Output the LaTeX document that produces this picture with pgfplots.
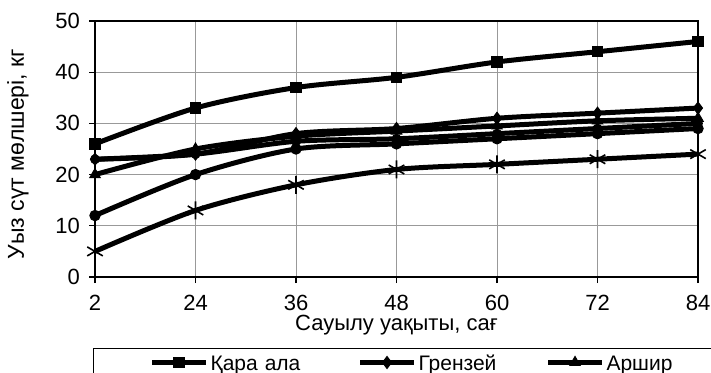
\documentclass[border=0pt]{standalone}
\usepackage{fontspec}
\setmainfont{Liberation Sans}
\usepackage{pgfplots}
\pgfplotsset{compat=1.18}
\begin{document}
\begin{tikzpicture}
\begin{axis}[name=ax, scale only axis, width=301.5pt, height=128pt,
  xmin=0, xmax=6, ymin=0, ymax=50,
  ytick={0,10,...,50}, xtick={0,...,6}, xticklabels={2,24,36,48,60,72,84},
  grid=major, major grid style={gray!80, line width=0.5pt},
  axis line style={line width=1pt},
  tick style={black, line width=0.6pt}, tick align=outside, major tick length=3pt,
  xtick pos=left, ytick pos=left,
  /pgf/number format/assume math mode=true,
  tick label style={font=\fontsize{11}{12}\selectfont},
  xticklabel style={yshift=-2.5pt},
  yticklabel style={xshift=-1pt},
  xlabel={Сауылу уақыты, сағ}, ylabel={Уыз сүт мөлшері, кг},
  xlabel style={at={(axis description cs:0.5,-0.1875)}, anchor=center, font=\fontsize{11}{12}\selectfont},
  ylabel style={at={(axis description cs:-0.128,0.48)}, anchor=center, font=\fontsize{11.5}{12}\selectfont},
  every axis plot/.append style={line width=2.5pt, black, smooth},
  legend columns=3,
  legend image code/.code={\draw[#1, mark repeat=2, mark phase=2] plot coordinates {(0pt,3.9pt) (13.5pt,3.9pt) (27pt,3.9pt)};},
  legend style={at={(axis description cs:-0.0033,-0.2773)}, anchor=north west,
    draw=black, line width=0.5pt, font=\fontsize{10.5}{12}\selectfont,
    inner xsep=28pt, inner ysep=1pt,
    nodes={anchor=base west, text width=60pt, inner xsep=1pt, inner ysep=1pt, text height=8.9pt, text depth=20pt, align=left},
    /tikz/column 2/.append style={nodes={text width=72.5pt}},
    /tikz/column 4/.append style={nodes={text width=62.5pt}},
    /tikz/column 6/.append style={nodes={text width=160pt}}},
]
\addplot[mark=square*, mark size=2.6pt, mark options={solid, line width=0.5pt}] coordinates {(0,26) (1,33) (2,37) (3,39) (4,42) (5,44) (6,46)};
\addplot[mark=diamond*, mark size=3pt, mark options={solid, line width=0.5pt}] coordinates {(0,23) (1,24) (2,28) (3,29) (4,31) (5,32) (6,33)};
\addplot[mark=triangle*, mark size=3pt, mark options={solid, line width=0.5pt}] coordinates {(0,20) (1,25) (2,27.5) (3,28.5) (4,29.5) (5,30.5) (6,31)};
\addplot[mark=*, mark size=2.2pt, mark options={solid, line width=0.5pt}] coordinates {(0,23) (1,24) (2,26.5) (3,27) (4,28) (5,29) (6,30)};
\addplot[mark=*, mark size=2.6pt, mark options={solid, line width=0.5pt}] coordinates {(0,12) (1,20) (2,25) (3,26) (4,27) (5,28) (6,29)};
\addplot[mark=asterisk, mark size=4.5pt, mark options={solid, line width=0.8pt}] coordinates {(0,5) (1,13) (2,18) (3,21) (4,22) (5,23) (6,24)};
\legend{Қара ала, Грензей, Аршир}
\end{axis}
\pgfresetboundingbox
\path[use as bounding box] ([xshift=-47.5pt,yshift=-47.5pt]ax.south west) rectangle ([xshift=6.5pt,yshift=10.5pt]ax.north east);
\end{tikzpicture}
\end{document}
